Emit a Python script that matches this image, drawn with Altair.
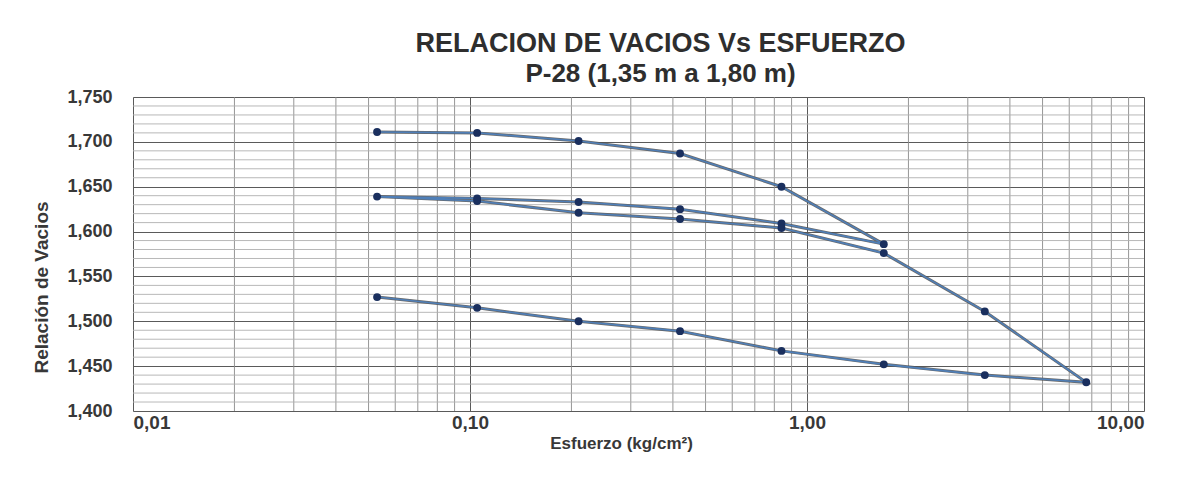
import altair as alt
import pandas as pd

# ---- data ----
esfuerzo = [0.053, 0.105, 0.21, 0.42, 0.84, 1.69,
            0.84, 0.42, 0.21, 0.105, 0.053,
            0.105, 0.21, 0.42, 0.84, 1.69, 3.37, 6.74,
            3.37, 1.69, 0.84, 0.42, 0.21, 0.105, 0.053]
vacios = [1.711, 1.710, 1.701, 1.687, 1.650, 1.586,
          1.609, 1.625, 1.633, 1.637, 1.639,
          1.634, 1.621, 1.614, 1.604, 1.576, 1.511, 1.432,
          1.440, 1.452, 1.467, 1.489, 1.500, 1.515, 1.527]

x_major = [0.01, 0.1, 1.0, 10.0]
x_minor = [m * d for d in [0.01, 0.1, 1.0] for m in range(2, 10)]
y_major = [1.40, 1.45, 1.50, 1.55, 1.60, 1.65, 1.70, 1.75]
y_minor = [round(1.40 + i * 0.01, 2) for i in range(36) if i % 5 != 0]

titulo = "RELACION DE VACIOS Vs ESFUERZO"
subtitulo = "P-28 (1,35 m a 1,80 m)"
x_titulo = "Esfuerzo  (kg/cm²)"
y_titulo = "Relación de Vacios"

df = pd.DataFrame({"orden": list(range(len(esfuerzo))), "esfuerzo": esfuerzo, "vacios": vacios})
dfx = pd.DataFrame({"x": x_minor})
dfy = pd.DataFrame({"y": y_minor})

FONT = "Liberation Sans"
TXT = "#383838"

xscale = alt.Scale(type="log", domain=[0.01, 10], nice=False)
yscale = alt.Scale(domain=[1.40, 1.75], nice=False, zero=False)

xaxis = alt.Axis(values=x_major, title=x_titulo,
                 labelExpr="replace(format(datum.value, '.2f'), '.', ',')",
                 grid=True, gridColor="#5a5a5a", gridWidth=1, ticks=False, domain=False,
                 labelFont=FONT, labelFontSize=19, labelFontWeight="bold", labelColor=TXT,
                 labelPadding=2, titleFont=FONT, titleFontSize=17, titleFontWeight="bold",
                 titleColor=TXT, titlePadding=3, titleX=488)
yaxis = alt.Axis(values=y_major, title=y_titulo,
                 labelExpr="replace(format(datum.value, '.3f'), '.', ',')",
                 grid=True, gridColor="#5a5a5a", gridWidth=1, ticks=False, domain=False,
                 labelFont=FONT, labelFontSize=18, labelFontWeight="bold", labelColor=TXT,
                 labelPadding=21, titleFont=FONT, titleFontSize=19, titleFontWeight="bold",
                 titleColor=TXT, titlePadding=15, titleY=190)

vminor = alt.Chart(dfx).mark_rule(color="#8a8a8a", strokeWidth=0.9).encode(
    x=alt.X("x:Q", scale=xscale, axis=xaxis))
hminor = alt.Chart(dfy).mark_rule(color="#b0b0b0", strokeWidth=0.9).encode(
    y=alt.Y("y:Q", scale=yscale, axis=yaxis))

base = alt.Chart(df).encode(
    x=alt.X("esfuerzo:Q", scale=xscale, axis=xaxis),
    y=alt.Y("vacios:Q", scale=yscale, axis=yaxis),
    order=alt.Order("orden:Q"),
)
line_gray = base.mark_line(color="#505050", strokeWidth=3, opacity=0.85)
line_blue = base.mark_line(color="#4f7fb8", strokeWidth=1.6)
pts = base.mark_circle(color="#1a2f5e", size=62, opacity=1)

chart = alt.layer(vminor, hminor, line_gray, line_blue, pts).properties(
    width=1011, height=314,
    title=alt.TitleParams(text=titulo, subtitle=subtitulo, anchor="middle", dx=22,
                          font=FONT, fontSize=27, fontWeight="bold", color="#2e2e2e",
                          subtitleFont=FONT, subtitleFontSize=26, subtitleFontWeight="bold",
                          subtitleColor="#2e2e2e", subtitlePadding=3, offset=0),
    autosize=alt.AutoSizeParams(type="none"),
    padding={"left": 133, "top": 97, "right": 51, "bottom": 71},
).configure_view(stroke="#555555", strokeWidth=1.2).configure(background="white")

chart.save("out.html", embed_options={"renderer": "svg", "actions": False})
